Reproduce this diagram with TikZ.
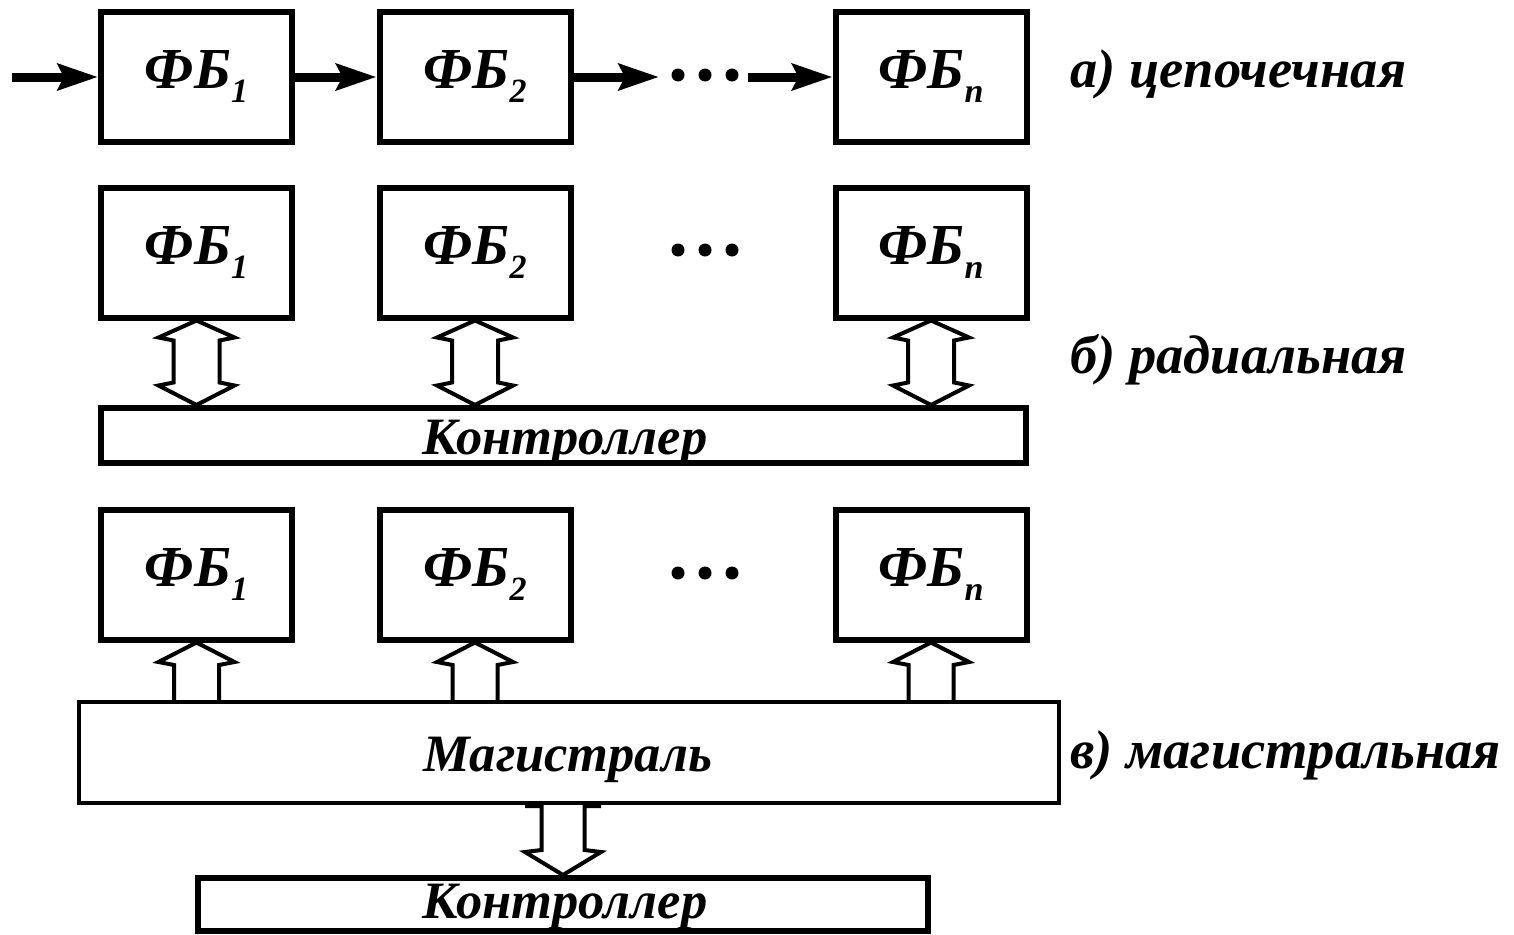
\documentclass[tikz,border=0pt]{standalone}
\usepackage{fontspec}
\setmainfont{Liberation Serif}
\usetikzlibrary{arrows.meta,calc}
\newcommand\myfbfont{\fontsize{58}{60}\selectfont\bfseries\itshape}
\newcommand\mylblfont{\fontsize{54.5}{56}\selectfont\bfseries\itshape}
\newcommand\mybarfont{\fontsize{52.5}{54}\selectfont\bfseries\itshape}
\newcommand\myfbsub[1]{\raisebox{-14pt}{\fontsize{34}{34}\selectfont #1}}
\begin{document}
\begin{tikzpicture}[x=1pt,y=-1pt,
  fb/.style={draw, line width=6pt, minimum width=191pt, minimum height=130pt, inner sep=0pt, font=\myfbfont},
  bar/.style={draw, line width=6pt, inner sep=0pt},
  bartxt/.style={font=\mybarfont, inner sep=0pt, anchor=base},
  lbl/.style={font=\mylblfont, inner sep=0pt, anchor=base west},
  chain/.style={line width=9pt, -{Stealth[length=40pt,width=26pt,inset=6pt]}},
  blk/.style={draw, line width=4pt, line join=miter},
  dot/.style={circle, fill, inner sep=0pt, minimum size=13pt}]
\useasboundingbox (0,0) rectangle (1514,934);
% row a
\node[fb] (a1) at (196.5,77) {ФБ\myfbsub{1}};
\node[fb] (a2) at (475,77) {ФБ\myfbsub{2}};
\node[fb] (an) at (931,77) {ФБ\myfbsub{n}};
\coordinate (ain) at (12,77);
\coordinate (aend) at (659,77);
\coordinate (astart) at (748,77);
\draw[chain] (ain) -- (a1.west);
\draw[chain] (a1.east) -- (a2.west);
\draw[chain] (a2.east) -- (aend);
\draw[chain] (astart) -- (an.west);
\node[dot] (ad1) at (678,75) {};
\node[dot] (ad2) at (705,75) {};
\node[dot] (ad3) at (732,75) {};
\node[lbl] (la) at (1070,87) {а) цепочечная};
% row b
\node[fb] (b1) at (196.5,252.5) {ФБ\myfbsub{1}};
\node[fb] (b2) at (475,252.5) {ФБ\myfbsub{2}};
\node[fb] (bn) at (931,252.5) {ФБ\myfbsub{n}};
\node[dot] (bd1) at (678,250) {};
\node[dot] (bd2) at (705,250) {};
\node[dot] (bd3) at (732,250) {};
\node[bar, minimum width=925pt, minimum height=55pt] (ctrl1) at (563.5,435.5) {};
\node[bartxt] (ctrl1t) at (565,454) {Контроллер};
\foreach \b in {b1,b2,bn}{
  \draw[blk, fill=white] (\b.south) -- ++(-38,17) -- ++(15,3) -- ++(0,42) -- ++(-15,3)
    -- (\b.south |- ctrl1.north) -- ++(38,-19.5) -- ++(-15,-3) -- ++(0,-42) -- ++(15,-3) -- cycle;
}
\node[lbl] (lb) at (1070,373) {б) радиальная};
% row c
\node[fb] (c1) at (196.5,574.5) {ФБ\myfbsub{1}};
\node[fb] (c2) at (475,574.5) {ФБ\myfbsub{2}};
\node[fb] (cn) at (931,574.5) {ФБ\myfbsub{n}};
\node[dot] (cd1) at (678,573) {};
\node[dot] (cd2) at (705,573) {};
\node[dot] (cd3) at (732,573) {};
\node[draw, line width=4pt, inner sep=0pt, minimum width=980pt, minimum height=101pt] (mag) at (569,752.5) {};
\node[bartxt] (magt) at (568,771) {Магистраль};
\node[bar, minimum width=730pt, minimum height=53pt] (ctrl2) at (563,904.5) {};
\node[bartxt] (ctrl2t) at (565,918) {Контроллер};
\foreach \c in {c1,c2,cn}{
  \draw[blk] ($(\c.south |- mag.north)+(-22.5,0)$) -- ++(0,-35) -- ++(-15.5,-3) -- (\c.south)
    -- ++(38,19.5) -- ++(-15.5,3) -- ++(0,35);
}
\draw[blk] ($(ctrl2.north |- mag.south)+(-38,1)$) -- ++(16.5,0) -- ++(0,44) -- ++(-16.5,2)
  -- (ctrl2.north) -- ++(38,-23) -- ++(-16.5,-2) -- ++(0,-44) -- ++(16.5,0);
\node[lbl] (lc) at (1070,768) {в) магистральная};
\end{tikzpicture}
\end{document}
